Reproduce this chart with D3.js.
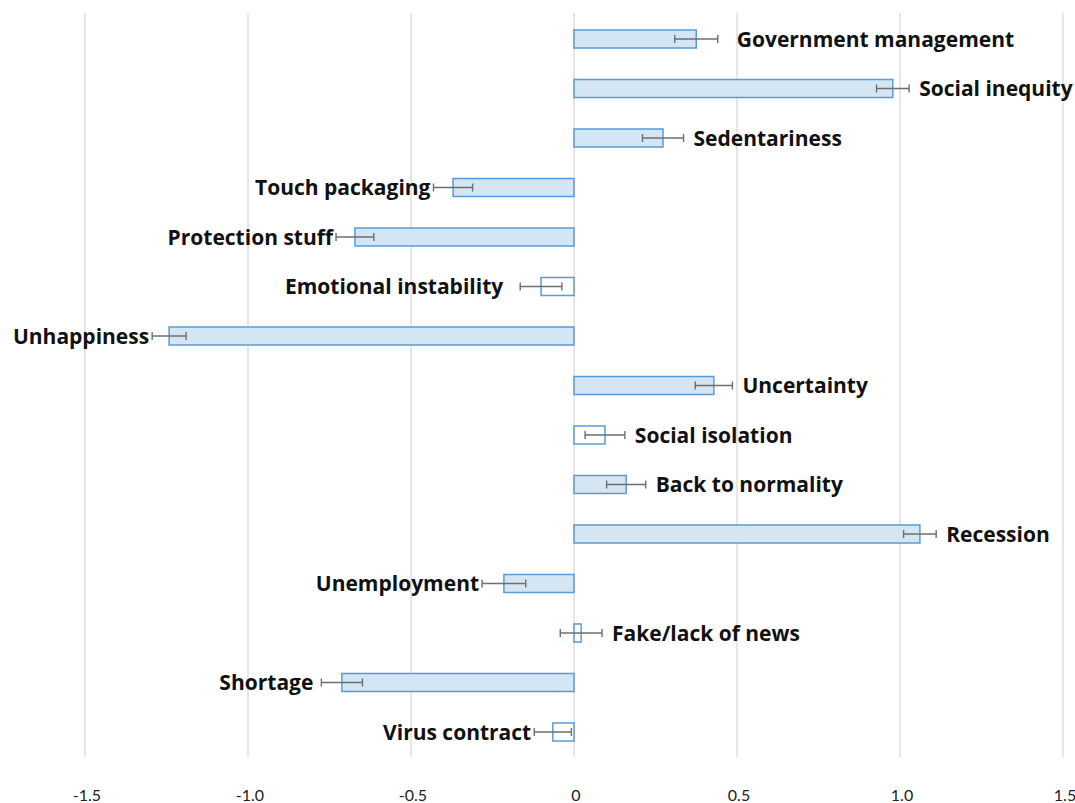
<!DOCTYPE html>
<html>
<head>
<meta charset="utf-8">
<script src="https://cdn.jsdelivr.net/npm/d3@7"></script>
<style>
  body { margin: 0; background: #fff; }
  svg { display: block; }
</style>
</head>
<body>
<svg id="chart" width="1075" height="803"></svg>
<script>
// categories, top to bottom
const categories = [
    "Government management", "Social inequity", "Sedentariness", "Touch packaging",
    "Protection stuff", "Emotional instability", "Unhappiness", "Uncertainty",
    "Social isolation", "Back to normality", "Recession", "Unemployment",
    "Fake/lack of news", "Shortage", "Virus contract"
];

// mean score per category
const values = [
    0.375, 0.978, 0.273, -0.371,
    -0.672, -0.101, -1.242, 0.429,
    0.095, 0.160, 1.061, -0.215,
    0.022, -0.712, -0.065
];

// half-width of the error bars
const errors = [
    0.066, 0.050, 0.063, 0.060,
    0.058, 0.064, 0.052, 0.057,
    0.061, 0.060, 0.050, 0.067,
    0.064, 0.063, 0.057
];

const xTicks = [-1.5, -1.0, -0.5, 0, 0.5, 1.0, 1.5];
const xTickLabels = ["-1.5", "-1.0", "-0.5", "0", "0.5", "1.0", "1.5"];

// a couple of labels were dragged by hand in the original
const labelNudge = {
    "Government management": 9,
    "Emotional instability": -14,
    "Shortage": -5
};

const svg = d3.select("#chart");

const x = d3.scaleLinear()
    .domain([-1.5, 1.5])
    .range([85, 1063]);

const y = d3.scaleBand()
    .domain(categories)
    .range([14.25, 756.75])
    .paddingInner(0.636)
    .paddingOuter(0.318);

// vertical gridlines
svg.append("g")
    .selectAll("line")
    .data(xTicks)
    .join("line")
    .attr("x1", d => x(d))
    .attr("x2", d => x(d))
    .attr("y1", 13)
    .attr("y2", 757)
    .attr("stroke", "#d9d9d9")
    .attr("stroke-width", 1.3);

// tick labels along the bottom
svg.append("g")
    .selectAll("text")
    .data(xTicks)
    .join("text")
    .attr("x", d => x(d) + 2)
    .attr("y", 801)
    .attr("text-anchor", "middle")
    .attr("font-family", "Lato, 'Liberation Sans', sans-serif")
    .attr("font-size", 16)
    .attr("fill", "#222")
    .text((d, i) => xTickLabels[i]);

const rows = categories.map((c, i) => ({ name: c, value: values[i], err: errors[i] }));

// the bars; very short bars were drawn hollow in the original
svg.append("g")
    .selectAll("rect")
    .data(rows)
    .join("rect")
    .attr("x", d => Math.min(x(0), x(d.value)))
    .attr("y", d => y(d.name))
    .attr("width", d => Math.abs(x(d.value) - x(0)))
    .attr("height", y.bandwidth())
    .attr("fill", d => Math.abs(d.value) < 0.11 ? "#ffffff" : "#d4e5f4")
    .attr("stroke", "#5b9bd5")
    .attr("stroke-width", 1.5);

// error bars
const err = svg.append("g")
    .attr("stroke", "#6e6e6e")
    .attr("stroke-width", 1.4);

rows.forEach(d => {
    const cy = y(d.name) + y.bandwidth() / 2;
    const x0 = x(d.value - d.err);
    const x1 = x(d.value + d.err);
    err.append("line").attr("x1", x0).attr("x2", x1).attr("y1", cy).attr("y2", cy);
    err.append("line").attr("x1", x0).attr("x2", x0).attr("y1", cy - 4).attr("y2", cy + 4);
    err.append("line").attr("x1", x1).attr("x2", x1).attr("y1", cy - 4).attr("y2", cy + 4);
});

// category labels sit just past the outer end of each error bar
svg.append("g")
    .selectAll("text")
    .data(rows)
    .join("text")
    .attr("x", d => (d.value >= 0 ? x(d.value + d.err) + 10 : x(d.value - d.err) - 3) + (labelNudge[d.name] || 0))
    .attr("y", d => y(d.name) + y.bandwidth() / 2)
    .attr("dy", "0.36em")
    .attr("text-anchor", d => d.value >= 0 ? "start" : "end")
    .attr("font-family", "'Open Sans', Lato, sans-serif")
    .attr("font-weight", "bold")
    .attr("font-size", 21)
    .attr("fill", "#111")
    .text(d => d.name);
</script>
</body>
</html>
